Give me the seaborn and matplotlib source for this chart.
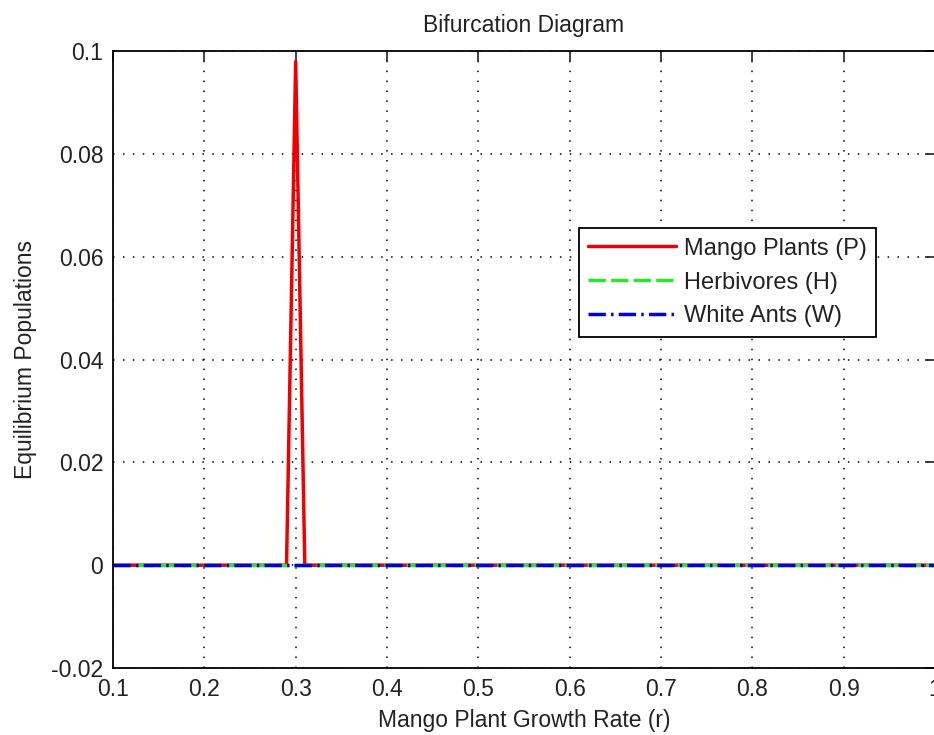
import matplotlib
matplotlib.use("Agg")
import matplotlib.pyplot as plt
import numpy as np
import pandas as pd
import seaborn as sns

# growth rate r and equilibrium values
r_plants = [0.10, 0.29, 0.30, 0.31, 1.00]
plants = [0.0, 0.0, 0.098, 0.0, 0.0]
r_herb = [0.10, 1.00]
herbivores = [0.0, 0.0]
r_ants = [0.10, 1.00]
white_ants = [0.0, 0.0]

x_ticks = [0.1, 0.2, 0.3, 0.4, 0.5, 0.6, 0.7, 0.8, 0.9, 1.0]
x_tick_labels = ["0.1", "0.2", "0.3", "0.4", "0.5", "0.6", "0.7", "0.8", "0.9", "1"]
y_ticks = [-0.02, 0.0, 0.02, 0.04, 0.06, 0.08, 0.1]
y_tick_labels = ["-0.02", "0", "0.02", "0.04", "0.06", "0.08", "0.1"]

sns.set_style("white")
plt.rcParams["font.family"] = ["Liberation Sans", "DejaVu Sans"]

fig = plt.figure(figsize=(9.34, 7.35), dpi=100)
ax = fig.add_axes([0.121, 0.0912, 0.880, 0.839])

df_p = pd.DataFrame({"r": r_plants, "v": plants})
df_h = pd.DataFrame({"r": r_herb, "v": herbivores})
df_w = pd.DataFrame({"r": r_ants, "v": white_ants})

sns.lineplot(data=df_p, x="r", y="v", ax=ax, color="#f00000", lw=2.5,
             label="Mango Plants (P)", sort=False, estimator=None)
sns.lineplot(data=df_h, x="r", y="v", ax=ax, color="#2ee62e", lw=2.5,
             label="Herbivores (H)", sort=False, estimator=None)
sns.lineplot(data=df_w, x="r", y="v", ax=ax, color="#0000dd", lw=2.5,
             label="White Ants (W)", sort=False, estimator=None)
lines = ax.get_lines()
lines[1].set_dashes((5.0, 1.5))
lines[2].set_dashes((5.0, 1.5, 0.7, 1.5))

ax.set_xlim(0.1, 1.0)
ax.set_ylim(-0.02, 0.1)
ax.set_xticks(x_ticks)
ax.set_xticklabels(x_tick_labels)
ax.set_yticks(y_ticks)
ax.set_yticklabels(y_tick_labels)
ax.grid(True, color="black", linestyle=(0, (1, 5.5)), linewidth=1.1)
ax.tick_params(direction="in", length=7, width=1.2, top=True, right=True,
               labelsize=16.5, colors="#222222", pad=7)
for s in ax.spines.values():
    s.set_color("black")
    s.set_linewidth(1.3)

ax.set_title("Bifurcation Diagram", fontsize=16.5, pad=14, color="#222222")
ax.set_xlabel("Mango Plant Growth Rate (r)", fontsize=16.5, labelpad=6, color="#222222")
ax.set_ylabel("Equilibrium Populations", fontsize=16.5, labelpad=10, color="#222222")

leg = ax.legend(loc="upper left", bbox_to_anchor=(0.567, 0.713), fontsize=17,
                frameon=True, fancybox=False, framealpha=1, edgecolor="black",
                handlelength=3.7, handletextpad=0.35, labelspacing=0.5,
                borderpad=0.4, borderaxespad=0)
leg.get_frame().set_linewidth(1.3)
for h in leg.get_lines():
    h.set_linewidth(2.5)
for t in leg.get_texts():
    t.set_color("#222222")

fig.savefig("out.png", dpi=100)
